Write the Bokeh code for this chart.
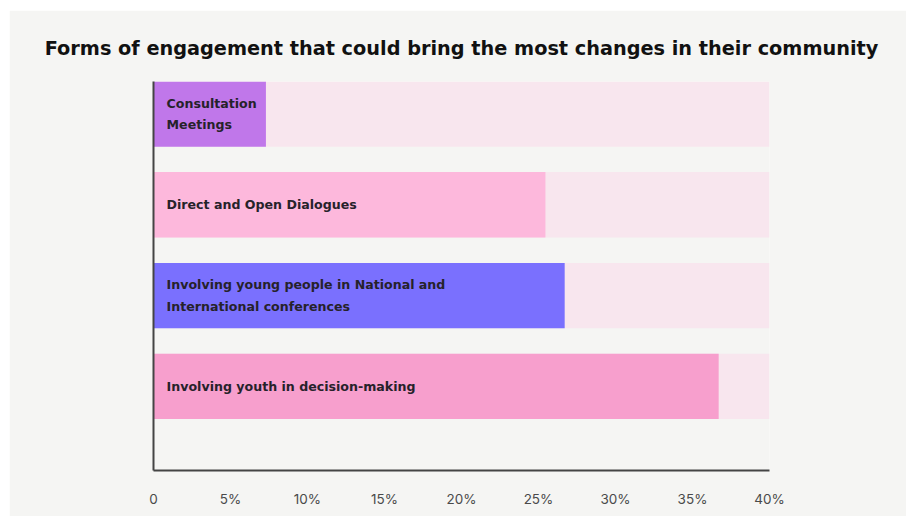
from bokeh.plotting import figure
from bokeh.models import Range1d, FixedTicker, ColumnDataSource, Spacer
from bokeh.layouts import column, row
from bokeh.core.properties import value
from bokeh.embed import file_html
from bokeh.resources import INLINE

# ---- data ----
categories = [
    "Consultation\nMeetings",
    "Direct and Open Dialogues",
    "Involving young people in National and\nInternational conferences",
    "Involving youth in decision-making",
]
shares = [7.3, 25.45, 26.7, 36.7]
track_max = [40, 40, 40, 40]
bar_colors = ["#c077ea", "#fdb8dc", "#7a70fe", "#f79fcd"]
tick_values = [0, 5, 10, 15, 20, 25, 30, 35, 40]
tick_labels = ["0", "5%", "10%", "15%", "20%", "25%", "30%", "35%", "40%"]
title_text = "Forms of engagement that could bring the most changes in their community"

BG = "#f5f5f3"
n = len(categories)
ypos = [n - i for i in range(n)]

src = ColumnDataSource(dict(y=ypos, v=shares, track=track_max, c=bar_colors,
                            label=categories))

p = figure(width=897, height=506, output_backend="svg", toolbar_location=None,
           x_range=Range1d(0, 40), y_range=Range1d(0.074, 4.358),
           min_border_left=144, min_border_right=137, min_border_top=71,
           min_border_bottom=46, title=title_text)
p.background_fill_color = BG
p.border_fill_color = BG
p.outline_line_color = None
p.xgrid.visible = False
p.ygrid.visible = False

p.title.align = "center"
p.title.text_font = "DejaVu Sans"
p.title.text_font_style = "bold"
p.title.text_font_size = "19.3px"
p.title.text_color = "#111111"
p.title.standoff = 43

p.hbar(y="y", left=0, right="track", height=0.72, source=src,
       fill_color="#f8e6ee", line_color=None)
p.hbar(y="y", left=0, right="v", height=0.72, source=src,
       fill_color="c", line_color=None)
p.text(x=0.85, y="y", text="label", source=src, text_font=value("DejaVu Sans"),
       text_font_style="bold", text_font_size="12.6px", text_color="#26222a",
       text_align="left", text_baseline="middle", text_line_height=1.45)

xa = p.xaxis[0]
xa.ticker = FixedTicker(ticks=tick_values)
xa.major_label_overrides = {t: l for t, l in zip(tick_values, tick_labels)}
xa.major_tick_out = 0
xa.major_tick_in = 0
xa.minor_tick_out = 0
xa.minor_tick_in = 0
xa.axis_line_width = 2
xa.axis_line_color = "#444444"
xa.major_label_text_font = "Inter"
xa.major_label_text_font_size = "13.5px"
xa.major_label_text_color = "#4a4a4a"
xa.major_label_standoff = 20

ya = p.yaxis[0]
ya.ticker = FixedTicker(ticks=[])
ya.major_tick_out = 0
ya.minor_tick_out = 0
ya.axis_line_width = 2
ya.axis_line_color = "#444444"
ya.major_label_text_font_size = "0px"

layout = column(Spacer(width=906, height=10), row(Spacer(width=9, height=506), p))

open("out.html", "w").write(file_html(layout, INLINE))
